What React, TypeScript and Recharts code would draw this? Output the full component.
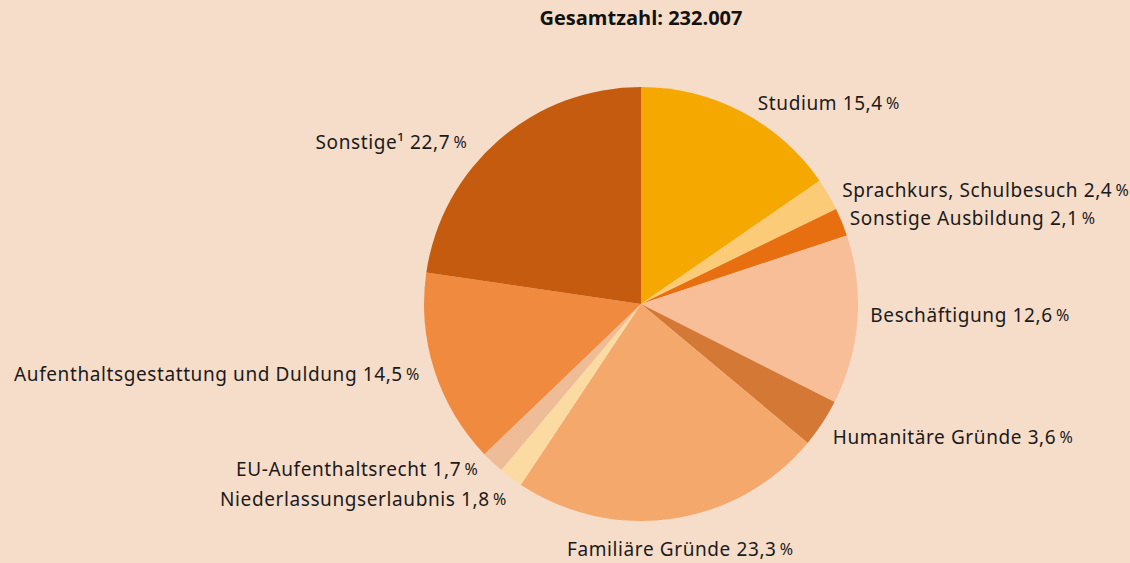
import { PieChart, Pie, Cell } from 'recharts';

const categories = [
    'Studium',
    'Sprachkurs, Schulbesuch',
    'Sonstige Ausbildung',
    'Beschäftigung',
    'Humanitäre Gründe',
    'Familiäre Gründe',
    'Niederlassungserlaubnis',
    'EU-Aufenthaltsrecht',
    'Aufenthaltsgestattung und Duldung',
    'Sonstige¹',
];

const shares = [15.4, 2.4, 2.1, 12.6, 3.6, 23.3, 1.8, 1.7, 14.5, 22.7];

const colors = [
    '#F5A800',
    '#FBCB78',
    '#E86F10',
    '#F8BE98',
    '#D47835',
    '#F4A86C',
    '#FBDBA2',
    '#EEBD98',
    '#F08A3F',
    '#C55B0E',
];

const totalLabel = 'Gesamtzahl: 232.007';

// label placement tweaks (px) relative to the default spot just outside the slice
const labelNudges: Record<string, { dx: number; dy: number; anchor?: 'start' | 'middle' | 'end' }> = {
    'Studium': { dx: 9, dy: 4 },
    'Sprachkurs, Schulbesuch': { dx: 1, dy: 3 },
    'Sonstige Ausbildung': { dx: -6, dy: 2 },
    'Beschäftigung': { dx: -2, dy: -6 },
    'Humanitäre Gründe': { dx: -2, dy: 5 },
    'Familiäre Gründe': { dx: 6, dy: 15, anchor: 'middle' },
    'Niederlassungserlaubnis': { dx: 5, dy: 9 },
    'EU-Aufenthaltsrecht': { dx: -4, dy: -4 },
    'Aufenthaltsgestattung und Duldung': { dx: 0, dy: -1 },
    'Sonstige¹': { dx: -22, dy: 14 },
};

const data = categories.map((name, i) => ({ name, value: shares[i] }));

const RAD = Math.PI / 180;

function renderLabel(props: any) {
    const { cx, cy, midAngle, outerRadius, name, value } = props;
    const r = outerRadius + 15;
    const cos = Math.cos(-midAngle * RAD);
    const sin = Math.sin(-midAngle * RAD);
    const nudge = labelNudges[name] ?? { dx: 0, dy: 0 };
    const x = cx + r * cos + nudge.dx;
    const y = cy + r * sin + nudge.dy;
    const anchor = nudge.anchor ?? (cos >= 0 ? 'start' : 'end');
    return (
        <text
            x={x}
            y={y}
            textAnchor={anchor}
            dominantBaseline="central"
            fill="#1a1a1a"
            fontSize={19}
            letterSpacing={0.6}
            fontFamily="'Noto Sans', sans-serif"
        >
            {name} {value.toFixed(1).replace('.', ',')}
            <tspan fontSize={16}>{'\u2009%'}</tspan>
        </text>
    );
}

export default function App() {
    return (
        <div
            style={{
                position: 'absolute',
                left: 0,
                top: 0,
                width: 1130,
                height: 563,
                background: '#F6DDCA',
            }}
        >
            <div
                style={{
                    position: 'absolute',
                    top: 4,
                    left: 0,
                    width: 1282,
                    textAlign: 'center',
                    fontFamily: "'Open Sans', sans-serif",
                    fontWeight: 700,
                    fontSize: 20,
                    color: '#111',
                }}
            >
                {totalLabel}
            </div>
            <PieChart width={1130} height={563} margin={{ top: 0, right: 0, bottom: 0, left: 0 }}>
                <Pie
                    data={data}
                    dataKey="value"
                    nameKey="name"
                    cx={641}
                    cy={304}
                    outerRadius={217}
                    startAngle={90}
                    endAngle={-270}
                    stroke="none"
                    labelLine={false}
                    label={renderLabel}
                    isAnimationActive={false}
                >
                    {data.map((d, i) => (
                        <Cell key={d.name} fill={colors[i]} />
                    ))}
                </Pie>
            </PieChart>
        </div>
    );
}
